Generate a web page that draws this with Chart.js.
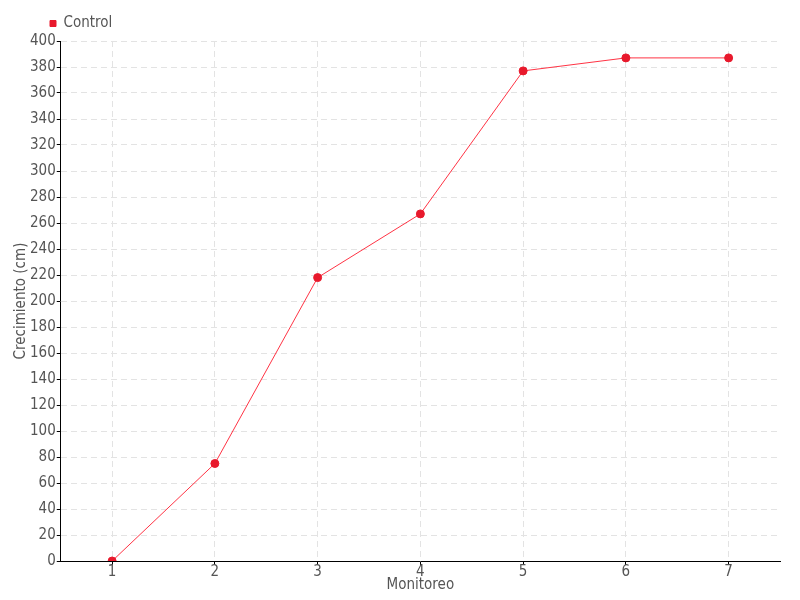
<!DOCTYPE html>
<html>
<head>
<meta charset="utf-8">
<script src="https://cdn.jsdelivr.net/npm/chart.js@4"></script>
<style>
  html, body { margin: 0; padding: 0; background: #fff; }
  #wrap { width: 800px; height: 600px; }
</style>
</head>
<body>
<div id="wrap"><canvas id="growthChart"></canvas></div>
<script>
// Growth data per monitoring round
const monitoreos = ['1', '2', '3', '4', '5', '6', '7'];
const controlValues = [0, 75, 218, 267, 377, 387, 387];

const textGray = '#555';
const fontFamily = "'Liberation Sans Narrow', 'DejaVu Sans Condensed', sans-serif";

Chart.defaults.font.family = fontFamily;
Chart.defaults.font.size = 15;
Chart.defaults.color = textGray;

// Nudge the legend so it starts near the y axis, like the original
const legendShift = {
    id: 'legendShift',
    afterLayout(chart) {
        if (chart.legend) {
            chart.legend.left += 32;
            chart.legend.right += 32;
        }
    }
};

new Chart(document.getElementById('growthChart'), {
    type: 'line',
    data: {
        labels: monitoreos,
        datasets: [{
            label: 'Control',
            data: controlValues,
            borderColor: '#ff3344',
            backgroundColor: '#e8192c',
            pointBackgroundColor: '#e8192c',
            pointBorderColor: '#e8192c',
            borderWidth: 1,
            pointRadius: 4,
            pointHoverRadius: 5,
            tension: 0
        }]
    },
    options: {
        responsive: true,
        maintainAspectRatio: false,
        animation: false,
        layout: {
            padding: { left: 14, right: 20, top: 12, bottom: 7 }
        },
        plugins: {
            legend: {
                align: 'start',
                labels: {
                    usePointStyle: true,
                    pointStyle: 'rect',
                    boxWidth: 6,
                    boxHeight: 6,
                    padding: 4,
                    color: textGray,
                    font: { lineHeight: 1 }
                }
            },
            tooltip: { enabled: false }
        },
        scales: {
            x: {
                offset: true,
                grid: {
                    offset: false,
                    color: '#e3e3e3',
                    tickColor: '#000',
                    tickLength: 4
                },
                border: { color: '#000', width: 1, dash: [6, 4] },
                ticks: { color: textGray, padding: 0, maxRotation: 0, font: { lineHeight: 1 } },
                title: {
                    display: true,
                    text: 'Monitoreo',
                    color: textGray,
                    font: { lineHeight: 1 },
                    padding: { top: -2, bottom: 0 }
                }
            },
            y: {
                min: 0,
                max: 400,
                grid: {
                    color: '#e3e3e3',
                    tickColor: '#000',
                    tickLength: 4
                },
                border: { color: '#000', width: 1, dash: [6, 4] },
                ticks: { stepSize: 20, color: textGray, padding: 1, font: { lineHeight: 1 } },
                title: {
                    display: true,
                    text: 'Crecimiento (cm)',
                    color: textGray,
                    font: { lineHeight: 1 },
                    padding: { top: 0, bottom: 0 }
                }
            }
        }
    },
    plugins: [legendShift]
});
</script>
</body>
</html>
